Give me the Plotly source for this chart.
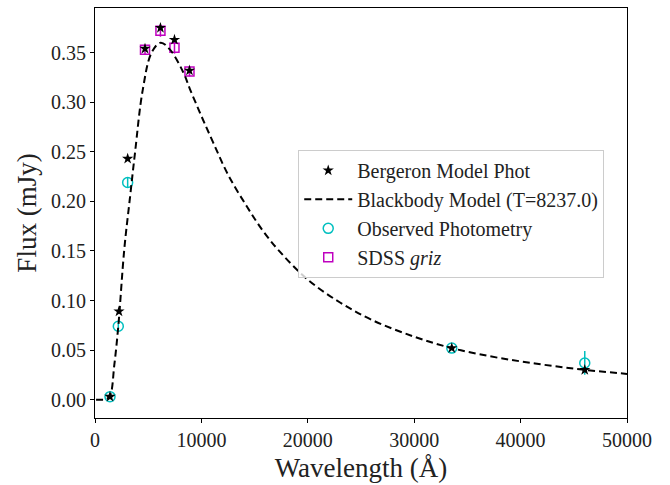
import plotly.graph_objects as go

# Bergeron model photometry (black stars)
berg_wl = [1410, 2255, 3070, 4700, 6150, 7470, 8880, 33530, 46030]
berg_flux = [0.003, 0.089, 0.243, 0.354, 0.375, 0.363, 0.332, 0.052, 0.030]

# Observed photometry (cyan circles)
obs_wl = [1410, 2190, 3070, 33530, 46030]
obs_flux = [0.003, 0.074, 0.219, 0.052, 0.037]
obs_err = [0.002, 0.003, 0.005, 0.002, 0.012]

# SDSS griz (magenta squares)
sdss_wl = [4700, 6150, 7470, 8880]
sdss_flux = [0.353, 0.372, 0.355, 0.331]
sdss_err = [0.005, 0.006, 0.006, 0.005]

# Blackbody model curve
bb_wl = [100, 500, 1000, 1410, 1815, 2190, 2755, 3300, 3760, 4480, 5320, 6170,
         7050, 8300, 8930, 10000, 11120, 12500, 14260, 15800, 17390, 20000,
         23030, 26000, 30000, 33530, 37000, 40000, 43000, 46030, 50000]
bb_flux = [0.0, 0.0, 0.0003, 0.004, 0.035, 0.074, 0.152, 0.205, 0.249, 0.312, 0.350, 0.360,
           0.353, 0.330, 0.313, 0.286, 0.259, 0.227, 0.195, 0.170, 0.149, 0.121,
           0.098, 0.0805, 0.0635, 0.052, 0.044, 0.0386, 0.034, 0.030, 0.026]

FONT = "Liberation Serif"
CYAN = "#00BFBF"
MAG = "#BF00BF"

fig = go.Figure()

fig.add_trace(go.Scatter(
    x=obs_wl, y=obs_flux, mode="markers", name="Observed Photometry",
    legendrank=3, legendgroup="c",
    error_y=dict(type="data", array=obs_err, color=CYAN, thickness=1.5, width=0),
    marker=dict(symbol="circle-open", size=10, color=CYAN, line=dict(width=1.5, color=CYAN)),
))
fig.add_trace(go.Scatter(
    x=sdss_wl, y=sdss_flux, mode="markers", name="SDSS <i>griz</i>",
    legendrank=4, legendgroup="d",
    error_y=dict(type="data", array=sdss_err, color=MAG, thickness=1.5, width=0),
    marker=dict(symbol="square-open", size=9, color=MAG, line=dict(width=1.5, color=MAG)),
))
fig.add_trace(go.Scatter(
    x=bb_wl, y=bb_flux, mode="lines", name="Blackbody Model (T=8237.0)",
    legendrank=2, legendgroup="b", line_shape="spline",
    line=dict(color="black", width=2, dash="7px,4px"),
))
fig.add_trace(go.Scatter(
    x=berg_wl, y=berg_flux, mode="markers", name="Bergeron Model Phot",
    legendrank=1, legendgroup="a",
    marker=dict(symbol="star", size=8.5, color="black", line=dict(width=0)),
))

axis_common = dict(
    showline=True, linecolor="black", linewidth=1, mirror=True,
    ticks="outside", ticklen=4, tickwidth=1, tickcolor="black",
    showgrid=False, zeroline=False,
    tickfont=dict(family=FONT, size=20, color="#222"),
)

fig.update_xaxes(
    range=[0, 50000], tickvals=[0, 10000, 20000, 30000, 40000, 50000],
    ticktext=["0", "10000", "20000", "30000", "40000", "50000"],
    title=dict(text="Wavelength (Å)", font=dict(family=FONT, size=27, color="#222"), standoff=8),
    **axis_common,
)
fig.update_yaxes(
    range=[-0.0185, 0.395], tickvals=[0, 0.05, 0.1, 0.15, 0.2, 0.25, 0.3, 0.35],
    tickformat=".2f",
    title=dict(text="Flux (mJy)", font=dict(family=FONT, size=27, color="#222"), standoff=6),
    **axis_common,
)

fig.update_layout(
    width=670, height=485,
    margin=dict(l=95, r=43, t=7, b=65),
    plot_bgcolor="white", paper_bgcolor="white",
    showlegend=True,
    legend=dict(
        x=0.382, y=0.654, xanchor="left", yanchor="top",
        bgcolor="rgba(255,255,255,0.8)", bordercolor="#cccccc", borderwidth=1,
        font=dict(family=FONT, size=20, color="#222"),
        traceorder="grouped", tracegroupgap=0, itemwidth=48,
    ),
)

fig.write_html("out.html")
